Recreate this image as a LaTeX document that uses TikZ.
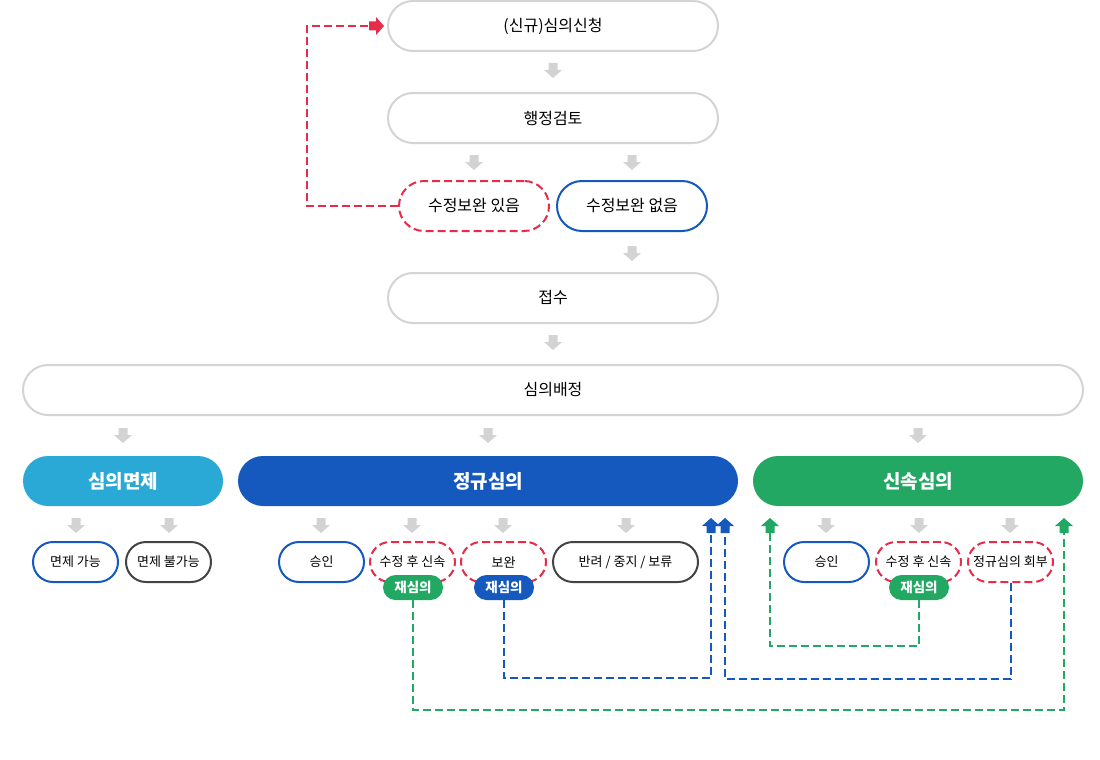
\documentclass[tikz,border=0pt]{standalone}
\usepackage{fontspec}
\setmainfont{Noto Sans CJK KR}
\definecolor{boxgray}{HTML}{D4D4D4}
\definecolor{arrgray}{HTML}{D3D3D3}
\definecolor{cred}{HTML}{E62B4B}
\definecolor{cblue}{HTML}{1559BE}
\definecolor{cdark}{HTML}{444444}
\definecolor{ccyan}{HTML}{2AA9D6}
\definecolor{cgreen}{HTML}{23A863}
\begin{document}
\begin{tikzpicture}[x=1pt,y=-1pt,
  bigbox/.style={draw=boxgray, line width=2pt, rounded corners=25pt, minimum height=50pt, minimum width=330pt, inner sep=0pt, font=\fontsize{16}{19}\selectfont},
  midbox/.style={line width=2pt, rounded corners=25pt, minimum height=50pt, minimum width=150pt, inner sep=0pt, font=\fontsize{16}{19}\selectfont},
  header/.style={rounded corners=25pt, minimum height=50pt, inner sep=0pt, text=white, font=\fontsize{19}{22}\selectfont\bfseries},
  small/.style={line width=2pt, rounded corners=20pt, minimum height=40pt, minimum width=85pt, inner sep=0pt, font=\fontsize{13}{15}\selectfont},
  badge/.style={rounded corners=12.5pt, minimum height=25pt, minimum width=60pt, inner sep=0pt, text=white, font=\fontsize{13.5}{16}\selectfont\bfseries},
  reddash/.style={draw=cred, dash pattern=on 8pt off 4pt},
  solidblue/.style={draw=cblue},
  soliddark/.style={draw=cdark},
  link/.style={line width=2pt, dash pattern=on 8pt off 4pt},
  pics/darrow/.style={code={\fill[#1] (-4.5,0) -- (4.5,0) -- (4.5,7) -- (9,7) -- (0,15) -- (-9,7) -- (-4.5,7) -- cycle;}}
]
\path[use as bounding box, fill=white] (0,0) rectangle (1100,760);

% top column
\node[bigbox] (n1) at (553,26) {(신규)심의신청};
\node[bigbox] (n2) at (553,118) {행정검토};
\node[midbox, reddash] (n3a) at (474,206) {수정보완 있음};
\node[midbox, solidblue] (n3b) at (632,206) {수정보완 없음};
\node[bigbox] (n4) at (553,298) {접수};
\node[bigbox, minimum width=1060pt] (n5) at (553,390) {심의배정};

\pic at (553,63) {darrow=arrgray};
\pic at (474,155) {darrow=arrgray};
\pic at (632,155) {darrow=arrgray};
\pic at (632,246) {darrow=arrgray};
\pic at (553,335) {darrow=arrgray};
\pic at (123,428) {darrow=arrgray};
\pic at (488,428) {darrow=arrgray};
\pic at (918,428) {darrow=arrgray};

% headers
\node[header, fill=ccyan, minimum width=200pt] (h1) at (123,481) {심의면제};
\node[header, fill=cblue, minimum width=500pt] (h2) at (488,481) {정규심의};
\node[header, fill=cgreen, minimum width=330pt] (h3) at (918,481) {신속심의};

\foreach \x in {76,169,321,412,503,626,826,919,1010}
  \pic at (\x,518) {darrow=arrgray};

% small nodes
\node[small, solidblue] (s1) at (75.5,562) {면제 가능};
\node[small, soliddark] (s2) at (168.5,562) {면제 불가능};
\node[small, solidblue] (s3) at (321.5,562) {승인};
\node[small, reddash] (s4) at (412.5,562) {수정 후 신속};
\node[small, reddash] (s5) at (503.5,562) {보완};
\node[small, soliddark, minimum width=145pt] (s6) at (625.5,562) {반려 / 중지 / 보류};
\node[small, solidblue] (s7) at (826.5,562) {승인};
\node[small, reddash] (s8) at (918.5,562) {수정 후 신속};
\node[small, reddash] (s9) at (1010.5,562) {정규심의 회부};

% badges
\node[badge, fill=cgreen] (b1) at (413,587.5) {재심의};
\node[badge, fill=cblue] (b2) at (504,587.5) {재심의};
\node[badge, fill=cgreen] (b3) at (919,587.5) {재심의};

% feedback connectors
\coordinate (rA) at (369,26);
\coordinate (bA) at (711,533);
\coordinate (bB) at (725,533);
\coordinate (gA) at (770,533);
\coordinate (gB) at (1064,533);

\draw[link, draw=cred] (n3a.west) -- ++(-91,0) |- (rA);
\pic[rotate=90] at (rA) {darrow=cred};

\draw[link, draw=cgreen] (b1.south) -- ++(0,110) -| (gB);
\draw[link, draw=cblue] (b2.south) -- ++(0,78) -| (bA);
\draw[link, draw=cblue] (s9.south) -- ++(0,96) -| (bB);
\draw[link, draw=cgreen] (b3.south) -- ++(0,46) -| (gA);

\pic[rotate=180] at (bA) {darrow=cblue};
\pic[rotate=180] at (bB) {darrow=cblue};
\pic[rotate=180] at (gA) {darrow=cgreen};
\pic[rotate=180] at (gB) {darrow=cgreen};
\end{tikzpicture}
\end{document}
